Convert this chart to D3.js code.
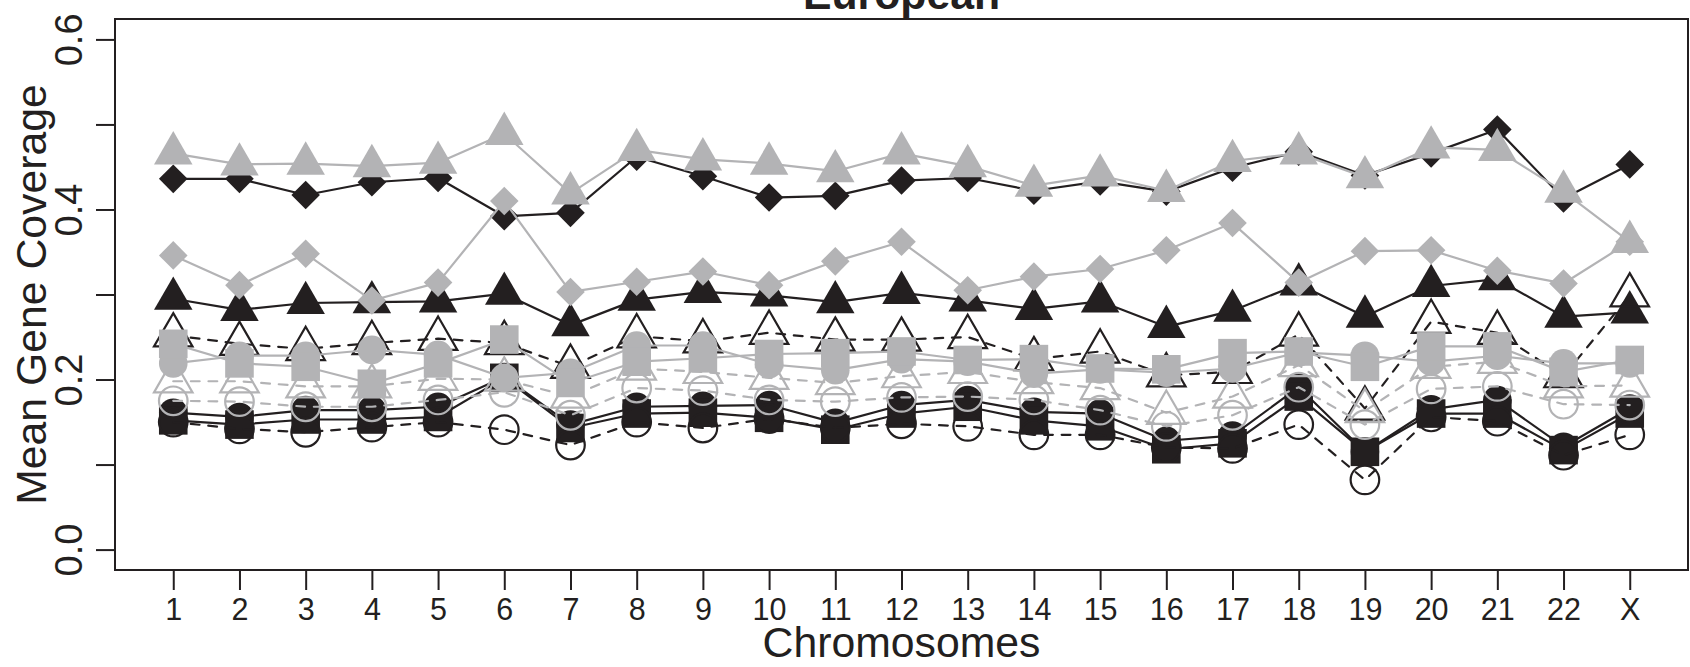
<!DOCTYPE html>
<html><head><meta charset="utf-8">
<script src="https://cdn.jsdelivr.net/npm/d3@7"></script>
<style>body{margin:0;background:#fff}svg{display:block}</style>
</head><body><svg id="chart" width="1690" height="667"></svg>
<script>
const chromosomes = ["1","2","3","4","5","6","7","8","9","10","11","12","13","14","15","16","17","18","19","20","21","22","X"];
const yTicks = [0, 0.1, 0.2, 0.3, 0.4, 0.5, 0.6];
const yTickLabels = ["0.0", "", "0.2", "", "0.4", "", "0.6"];
const titleText = "European";
const xLabel = "Chromosomes";
const yLabel = "Mean Gene Coverage";

// black series
const blackDiamond = [0.436,0.436,0.417,0.432,0.437,0.392,0.396,0.462,0.439,0.414,0.416,0.434,0.437,0.422,0.433,0.421,0.449,0.468,0.440,0.466,0.494,0.413,0.453];
const blackTriangle = [0.295,0.282,0.290,0.291,0.292,0.301,0.264,0.294,0.303,0.299,0.291,0.302,0.293,0.283,0.292,0.262,0.281,0.312,0.274,0.310,0.318,0.274,0.279];
const blackOpenTriangle = [0.252,0.242,0.236,0.243,0.248,0.243,0.215,0.251,0.245,0.255,0.247,0.247,0.250,0.224,0.233,0.205,0.209,0.253,0.166,0.268,0.255,0.204,0.299];
const blackCircle = [0.161,0.156,0.164,0.164,0.168,0.203,0.147,0.168,0.169,0.170,0.149,0.170,0.176,0.162,0.160,0.128,0.134,0.191,0.115,0.165,0.176,0.121,0.166];
const blackSquare = [0.152,0.147,0.153,0.153,0.156,0.202,0.143,0.160,0.161,0.155,0.141,0.160,0.168,0.152,0.145,0.118,0.125,0.180,0.115,0.160,0.160,0.117,0.160];
const blackOpenCircle = [0.150,0.142,0.138,0.144,0.150,0.141,0.123,0.150,0.143,0.154,0.143,0.148,0.145,0.135,0.135,0.120,0.119,0.147,0.082,0.156,0.151,0.111,0.135];
// gray series
const grayDiamond = [0.346,0.311,0.348,0.293,0.314,0.410,0.303,0.315,0.327,0.311,0.339,0.362,0.305,0.321,0.330,0.352,0.384,0.314,0.351,0.352,0.328,0.313,0.362];
const grayTriangle = [0.466,0.453,0.454,0.451,0.455,0.489,0.419,0.470,0.459,0.454,0.445,0.466,0.451,0.428,0.440,0.422,0.457,0.466,0.438,0.473,0.470,0.421,0.362];
const grayOpenTriangle = [0.198,0.198,0.192,0.192,0.201,0.200,0.180,0.213,0.209,0.202,0.196,0.204,0.209,0.197,0.190,0.161,0.180,0.217,0.163,0.215,0.221,0.192,0.193];
const grayCircle = [0.219,0.228,0.228,0.235,0.229,0.202,0.208,0.240,0.240,0.218,0.211,0.224,0.221,0.207,0.212,0.208,0.213,0.232,0.228,0.221,0.228,0.219,0.219];
const graySquare = [0.242,0.219,0.215,0.195,0.219,0.247,0.196,0.221,0.225,0.230,0.231,0.233,0.223,0.224,0.213,0.212,0.231,0.233,0.215,0.239,0.239,0.209,0.223];
const grayOpenCircle = [0.175,0.174,0.168,0.168,0.176,0.185,0.158,0.190,0.187,0.176,0.174,0.179,0.180,0.176,0.164,0.145,0.158,0.191,0.147,0.189,0.192,0.171,0.170];

const BLACK = "#231f20", GRAY = "#b3b3b5";
const series = [
  {values: blackDiamond, color: BLACK, shape: "diamond", filled: true, dashed: false},
  {values: blackTriangle, color: BLACK, shape: "triangle", filled: true, dashed: false},
  {values: blackOpenTriangle, color: BLACK, shape: "triangle", filled: false, dashed: true},
  {values: blackCircle, color: BLACK, shape: "circle", filled: true, dashed: false},
  {values: blackSquare, color: BLACK, shape: "square", filled: true, dashed: false},
  {values: blackOpenCircle, color: BLACK, shape: "circle", filled: false, dashed: true},
  {values: grayDiamond, color: GRAY, shape: "diamond", filled: true, dashed: false},
  {values: grayTriangle, color: GRAY, shape: "triangle", filled: true, dashed: false},
  {values: grayOpenTriangle, color: GRAY, shape: "triangle", filled: false, dashed: true},
  {values: grayOpenCircle, color: GRAY, shape: "circle", filled: false, dashed: true},
  {values: grayCircle, color: GRAY, shape: "circle", filled: true, dashed: false},
  {values: graySquare, color: GRAY, shape: "square", filled: true, dashed: false}
];

const FONT = "'Liberation Sans', Arial, Helvetica, sans-serif";
const box = {left: 115, right: 1688, top: 19, bottom: 570};
const LWD = 2.2, R0 = 14.3;

const svg = d3.select("#chart");
const x = d3.scaleLinear().domain([0.12, 23.88]).range([box.left, box.right]);
const y = d3.scaleLinear().domain([-0.024, 0.624]).range([box.bottom, box.top]);

const shapes = {
  circle: {draw(c){ c.moveTo(R0, 0); c.arc(0, 0, R0, 0, 2*Math.PI); c.closePath(); }},
  square: {draw(c){ c.rect(-R0, -R0, 2*R0, 2*R0); }},
  triangle: {draw(c){ const r = 1.5551*R0, xc = 1.3468*R0, yc = 0.7776*R0;
    c.moveTo(0, -r); c.lineTo(xc, yc); c.lineTo(-xc, yc); c.closePath(); }},
  diamond: {draw(c){ c.moveTo(-R0, 0); c.lineTo(0, -R0); c.lineTo(R0, 0); c.lineTo(0, R0); c.closePath(); }}
};

svg.append("defs").append("clipPath").attr("id", "plotclip")
  .append("rect").attr("x", 0).attr("y", box.top).attr("width", 1690).attr("height", box.bottom - box.top);

const plot = svg.append("g").attr("clip-path", "url(#plotclip)");
const line = d3.line().x((d, i) => x(i + 1)).y(d => y(d));

series.forEach(s => {
  const g = plot.append("g");
  g.append("path").attr("d", line(s.values))
    .attr("fill", "none").attr("stroke", s.color).attr("stroke-width", LWD)
    .attr("stroke-linejoin", "round").attr("stroke-linecap", "round")
    .attr("stroke-dasharray", s.dashed ? "8.8,8.8" : null);
  const sym = d3.symbol().type(shapes[s.shape]);
  g.selectAll("path.pt").data(s.values).join("path").attr("class", "pt")
    .attr("transform", (d, i) => `translate(${x(i + 1)},${y(d)})`)
    .attr("d", sym)
    .attr("fill", s.filled ? s.color : "none")
    .attr("stroke", s.filled ? "none" : s.color)
    .attr("stroke-width", LWD);
});

// box
svg.append("rect").attr("x", box.left).attr("y", box.top)
  .attr("width", box.right - box.left).attr("height", box.bottom - box.top)
  .attr("fill", "none").attr("stroke", BLACK).attr("stroke-width", 2);

// x axis
const xAxis = svg.append("g").attr("transform", `translate(0,${box.bottom})`)
  .call(d3.axisBottom(x).tickValues(d3.range(1, 24)).tickFormat(i => chromosomes[i - 1]).tickSize(20));
xAxis.select(".domain").remove();
xAxis.selectAll("line").attr("stroke", BLACK).attr("stroke-width", 2);
xAxis.selectAll("text").attr("y", 50).attr("dy", null)
  .attr("font-family", FONT).attr("font-size", 30.5).attr("fill", BLACK);

// y axis
const yAxis = svg.append("g").attr("transform", `translate(${box.left},0)`)
  .call(d3.axisLeft(y).tickValues(yTicks).tickFormat((d, i) => yTickLabels[i]).tickSize(19));
yAxis.select(".domain").remove();
yAxis.selectAll("line").attr("stroke", BLACK).attr("stroke-width", 2);
yAxis.selectAll("text").attr("x", 0).attr("y", 0).attr("dy", null)
  .attr("transform", "translate(-33,0) rotate(-90)").attr("text-anchor", "middle")
  .attr("font-family", FONT).attr("font-size", 38).attr("fill", BLACK);

// labels
svg.append("text").attr("x", (box.left + box.right) / 2).attr("y", 657)
  .attr("text-anchor", "middle").attr("font-family", FONT).attr("font-size", 42.75)
  .attr("fill", BLACK).text(xLabel);
svg.append("text").attr("transform", `translate(46,${(box.top + box.bottom) / 2}) rotate(-90)`)
  .attr("text-anchor", "middle").attr("font-family", FONT).attr("font-size", 42.75)
  .attr("fill", BLACK).text(yLabel);
svg.append("text").attr("x", (box.left + box.right) / 2).attr("y", 9)
  .attr("text-anchor", "middle").attr("font-family", FONT).attr("font-size", 42.75)
  .attr("font-weight", "bold").attr("fill", BLACK).text(titleText);
</script></body></html>
